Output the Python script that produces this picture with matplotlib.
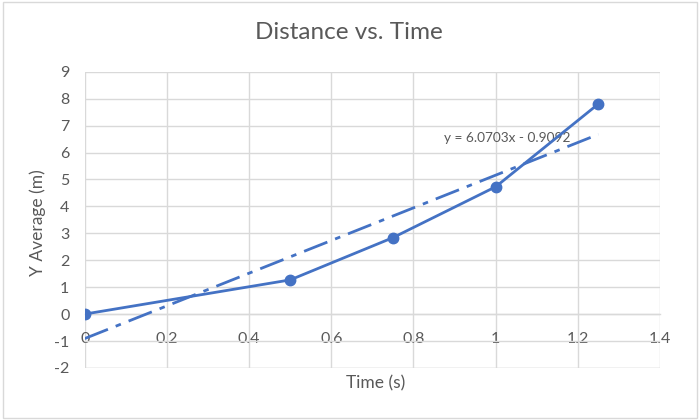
import numpy as np
from matplotlib import pyplot as plt
from matplotlib import rcParams

rcParams["font.family"] = ["Lato", "DejaVu Sans"]
rcParams["axes.unicode_minus"] = False

time_s = [0.0, 0.5, 0.75, 1.0, 1.25]
y_avg = [0.0, 1.27, 2.84, 4.73, 7.81]
slope = 6.0703
intercept = -0.9092
xticks = [0, 0.2, 0.4, 0.6, 0.8, 1.0, 1.2, 1.4]
xtick_labels = ["0", "0.2", "0.4", "0.6", "0.8", "1", "1.2", "1.4"]
yticks = list(range(-2, 10))

blue = "#4472C4"
grey = "#595959"
grid_c = "#D9D9D9"

fig = plt.figure(figsize=(7, 4.2), dpi=100)
ax = fig.add_axes([0.121, 0.124, 0.822, 0.705])

# trendline
tx = np.array([time_s[0], time_s[-1]])
ax.plot(tx, slope * tx + intercept, color=blue, lw=2, dashes=(9, 3, 2, 3),
        zorder=3)
# data
ax.plot(time_s, y_avg, "-o", color=blue, lw=2, ms=7.5, zorder=4)

ax.set_xlim(0, 1.4)
ax.set_ylim(-2, 9)
ax.set_xticks(xticks)
ax.set_xticklabels(xtick_labels)
ax.set_yticks(yticks)

ax.grid(True, color=grid_c, lw=1)
ax.set_axisbelow(True)
for s in ["top", "right", "left"]:
    ax.spines[s].set_visible(False)
ax.spines["bottom"].set_position(("data", 0))
ax.spines["bottom"].set_color(grid_c)
ax.spines["bottom"].set_linewidth(1)
ax.tick_params(axis="both", length=0, colors=grey, labelsize=11.5)
ax.tick_params(axis="x", pad=13)
ax.tick_params(axis="y", pad=11)
# frame for bottom of plot area
ax.axhline(-2, color=grid_c, lw=1, zorder=0)

ax.text(0.875, 6.55, "y = %.4fx - %.4f" % (slope, -intercept), color=grey,
        fontsize=9.8, va="center", ha="left", zorder=2)

fig.text(0.499, 0.922, "Distance vs. Time", ha="center", va="center",
         fontsize=17.5, color=grey)
fig.text(0.536, 0.087, "Time (s)", ha="center", va="center",
         fontsize=12.5, color=grey)
fig.text(0.054, 0.47, "Y Average (m)", ha="center", va="center",
         fontsize=12.5, color=grey, rotation=90)

# chart area border
fig.patches.append(plt.Rectangle((0.004, 0.004), 0.992, 0.992, fill=False,
                                 edgecolor=grid_c, lw=1,
                                 transform=fig.transFigure, figure=fig))

plt.savefig("out.png", dpi=100)
